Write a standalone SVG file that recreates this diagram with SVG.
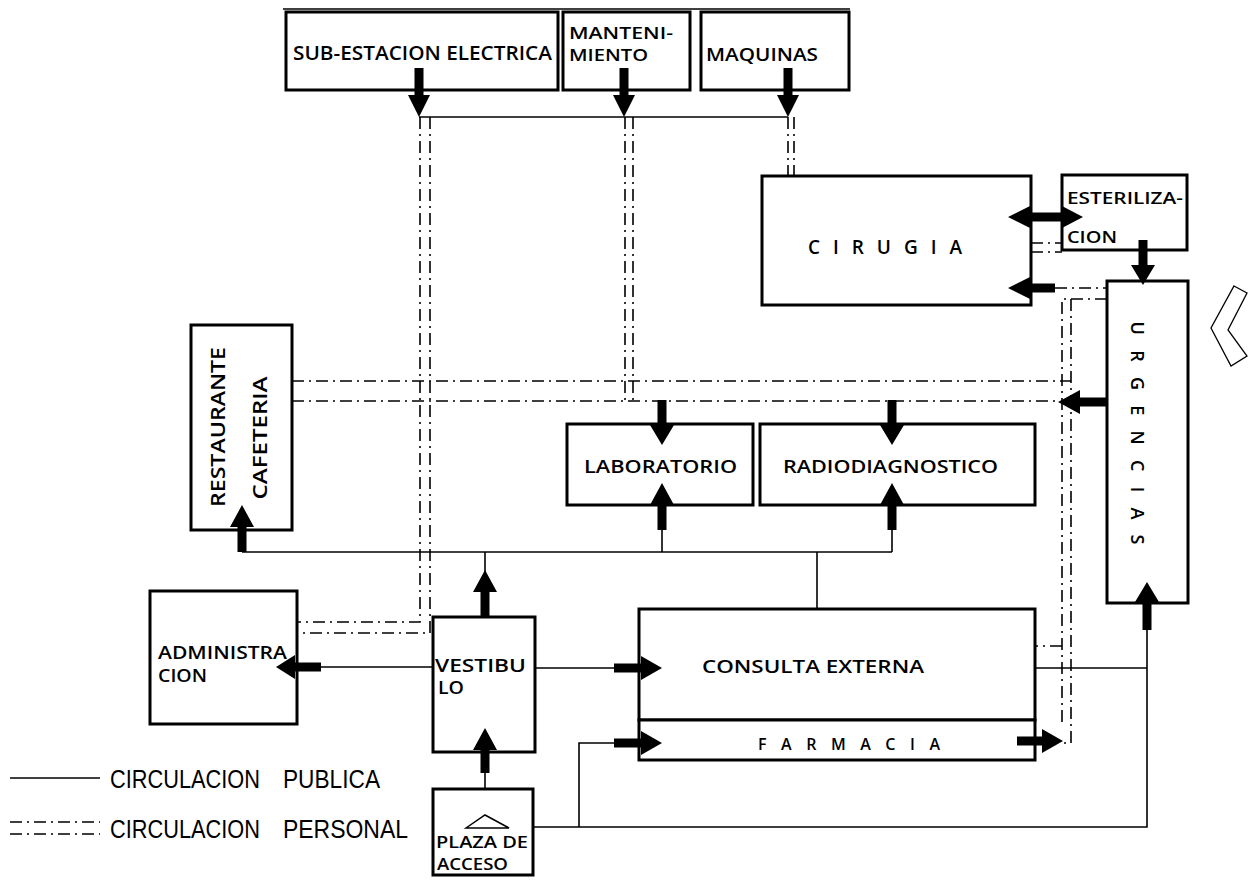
<svg xmlns="http://www.w3.org/2000/svg" width="1255" height="882" viewBox="0 0 1255 882">
<style>
.box{fill:#fff;stroke:#000;stroke-width:3}
.pub{fill:none;stroke:#000;stroke-width:1.6}
.per{fill:none;stroke:#000;stroke-width:1.6;stroke-dasharray:12 5 2 5}
.arr{fill:#000;stroke:none}
.lbl{font-family:"Open Sans","DejaVu Sans",sans-serif;font-weight:600;fill:#000}
.leg{font-family:"Liberation Sans",Arial,sans-serif;fill:#000;font-size:26px}
</style>
<rect width="1255" height="882" fill="#fff"/>
<line class="pub" x1="283" y1="9" x2="850" y2="9"/>

<g id="subestacion">
  <rect class="box" x="286" y="12" width="272" height="78"/>
  <text class="lbl" x="293" y="60" font-size="20" textLength="259" lengthAdjust="spacingAndGlyphs">SUB-ESTACION ELECTRICA</text>
</g>
<g id="mantenimiento">
  <rect class="box" x="563" y="12" width="127" height="78"/>
  <text class="lbl" x="569" y="39" font-size="17" textLength="104" lengthAdjust="spacingAndGlyphs">MANTENI-</text>
  <text class="lbl" x="569" y="61" font-size="17" textLength="79" lengthAdjust="spacingAndGlyphs">MIENTO</text>
</g>
<g id="maquinas">
  <rect class="box" x="701" y="12" width="148" height="78"/>
  <text class="lbl" x="706" y="61" font-size="18" textLength="112" lengthAdjust="spacingAndGlyphs">MAQUINAS</text>
</g>
<g id="cirugia">
  <rect class="box" x="762" y="176" width="269" height="129"/>
  <text class="lbl" x="808" y="254" font-size="19" textLength="154">C I R U G I A</text>
</g>
<g id="esterilizacion">
  <rect class="box" x="1062" y="175" width="125" height="75"/>
  <text class="lbl" x="1067" y="204" font-size="17" textLength="116" lengthAdjust="spacingAndGlyphs">ESTERILIZA-</text>
  <text class="lbl" x="1067" y="243" font-size="17" textLength="50" lengthAdjust="spacingAndGlyphs">CION</text>
</g>
<g id="urgencias">
  <rect class="box" x="1107" y="281" width="81" height="322"/>
  <text class="lbl" transform="translate(1131,433) rotate(90)" text-anchor="middle" font-size="18" textLength="223">U R G E N C I A S</text>
</g>
<g id="restaurante">
  <rect class="box" x="191" y="325" width="101" height="205"/>
  <text class="lbl" transform="translate(225,427) rotate(-90)" text-anchor="middle" font-size="20" textLength="160" lengthAdjust="spacingAndGlyphs">RESTAURANTE</text>
  <text class="lbl" transform="translate(267,438) rotate(-90)" text-anchor="middle" font-size="20" textLength="123" lengthAdjust="spacingAndGlyphs">CAFETERIA</text>
</g>
<g id="laboratorio">
  <rect class="box" x="567" y="424" width="186" height="81"/>
  <text class="lbl" x="584" y="473" font-size="18" textLength="153" lengthAdjust="spacingAndGlyphs">LABORATORIO</text>
</g>
<g id="radiodiagnostico">
  <rect class="box" x="760" y="424" width="275" height="81"/>
  <text class="lbl" x="783" y="473" font-size="18" textLength="215" lengthAdjust="spacingAndGlyphs">RADIODIAGNOSTICO</text>
</g>
<g id="administracion">
  <rect class="box" x="150" y="591" width="147" height="133"/>
  <text class="lbl" x="158" y="659" font-size="18" textLength="129" lengthAdjust="spacingAndGlyphs">ADMINISTRA</text>
  <text class="lbl" x="158" y="682" font-size="18" textLength="49" lengthAdjust="spacingAndGlyphs">CION</text>
</g>
<g id="vestibulo">
  <rect class="box" x="433" y="617" width="102" height="135"/>
  <text class="lbl" x="435" y="672" font-size="18" textLength="91" lengthAdjust="spacingAndGlyphs">VESTIBU</text>
  <text class="lbl" x="438" y="694" font-size="18" textLength="26" lengthAdjust="spacingAndGlyphs">LO</text>
</g>
<g id="consulta">
  <rect class="box" x="639" y="609" width="396" height="111"/>
  <text class="lbl" x="702" y="673" font-size="18" textLength="222" lengthAdjust="spacingAndGlyphs">CONSULTA EXTERNA</text>
</g>
<g id="farmacia">
  <rect class="box" x="639" y="720" width="396" height="40"/>
  <text class="lbl" x="758" y="750" font-size="16" textLength="182">F A R M A C I A</text>
</g>
<g id="plaza">
  <rect class="box" x="433" y="789" width="100" height="86"/>
  <path d="M466,828 L485,815 L509,828 Z" fill="none" stroke="#000" stroke-width="1.5"/>
  <text class="lbl" x="436" y="848" font-size="17" textLength="92" lengthAdjust="spacingAndGlyphs">PLAZA DE</text>
  <text class="lbl" x="437" y="870" font-size="17" textLength="71" lengthAdjust="spacingAndGlyphs">ACCESO</text>
</g>
<g id="orientacion">
  <polygon points="1234,286 1247,293 1228,330 1247,356 1231,366 1211,328" fill="none" stroke="#000" stroke-width="1.3"/>
</g>

<g id="connectors">
  <!-- public circulation -->
  <polyline class="pub" points="419,117 788,117"/>
  <polyline class="pub" points="242,552 892,552"/>
  <line class="pub" x1="662" y1="530" x2="662" y2="552"/>
  <line class="pub" x1="892" y1="530" x2="892" y2="552"/>
  <line class="pub" x1="485" y1="552" x2="485" y2="572"/>
  <line class="pub" x1="817" y1="552" x2="817" y2="609"/>
  <line class="pub" x1="321" y1="667" x2="433" y2="667"/>
  <line class="pub" x1="535" y1="668" x2="614" y2="668"/>
  <line class="pub" x1="485" y1="773" x2="485" y2="789"/>
  <polyline class="pub" points="533,827 1147,827 1147,630"/>
  <polyline class="pub" points="579,827 579,743 614,743"/>
  <line class="pub" x1="1035" y1="668" x2="1147" y2="668"/>
  <!-- personal circulation -->
  <polyline class="per" points="420,117 420,622 297,622"/>
  <polyline class="per" points="430,117 430,633 297,633"/>
  <line class="per" x1="625" y1="117" x2="625" y2="400"/>
  <line class="per" x1="633" y1="117" x2="633" y2="400"/>
  <line class="per" x1="788" y1="117" x2="788" y2="176"/>
  <line class="per" x1="794" y1="117" x2="794" y2="176"/>
  <line class="per" x1="292" y1="381" x2="1071" y2="381"/>
  <line class="per" x1="292" y1="401" x2="1058" y2="401"/>
  <line class="per" x1="1031" y1="243" x2="1062" y2="243"/>
  <line class="per" x1="1031" y1="252" x2="1062" y2="252"/>
  <line class="per" x1="1055" y1="288" x2="1107" y2="288"/>
  <polyline class="per" points="1107,299 1062,299 1062,725"/>
  <polyline class="per" points="1062,646 1035,646"/>
  <polyline class="per" points="1071,299 1071,743 1062,743"/>
  <!-- arrows -->
  <path class="arr" d="M414.5,68 H423.5 V95 H430 L419,117 L408,95 H414.5 Z"/>
  <path class="arr" d="M619.5,68 H628.5 V95 H635 L624,117 L613,95 H619.5 Z"/>
  <path class="arr" d="M783.5,68 H792.5 V95 H799 L788,117 L777,95 H783.5 Z"/>
  <path class="arr" d="M1138.5,240 H1147.5 V265 H1155 L1143,285 L1131,265 H1138.5 Z"/>
  <path class="arr" d="M657.5,400 H666.5 V425 H674 L662,445 L650,425 H657.5 Z"/>
  <path class="arr" d="M887.5,400 H896.5 V425 H904 L892,445 L880,425 H887.5 Z"/>
  <path class="arr" d="M237.5,552 H246.5 V527 H254 L242,505 L230,527 H237.5 Z"/>
  <path class="arr" d="M657.5,530 H666.5 V505 H674 L662,483 L650,505 H657.5 Z"/>
  <path class="arr" d="M887.5,530 H896.5 V505 H904 L892,483 L880,505 H887.5 Z"/>
  <path class="arr" d="M480.5,617 H489.5 V592 H497 L485,570 L473,592 H480.5 Z"/>
  <path class="arr" d="M480.5,773 H489.5 V750 H497 L485,728 L473,750 H480.5 Z"/>
  <path class="arr" d="M1142.5,630 H1151.5 V602 H1159 L1147,582 L1135,602 H1142.5 Z"/>
  <path class="arr" d="M1055,283.5 V292.5 H1032 V300 L1008,288 L1032,276 V283.5 Z"/>
  <path class="arr" d="M1106,397.5 V406.5 H1080 V414 L1058,402 L1080,390 V397.5 Z"/>
  <path class="arr" d="M321,662.5 V671.5 H295 V679 L276,667 L295,655 V662.5 Z"/>
  <path class="arr" d="M614,663.5 V672.5 H641 V680 L662,668 L641,656 V663.5 Z"/>
  <path class="arr" d="M614,738.5 V747.5 H641 V755 L662,743 L641,731 V738.5 Z"/>
  <path class="arr" d="M1017,736.5 V745.5 H1042 V753 L1063,741 L1042,729 V736.5 Z"/>
  <path class="arr" d="M1008,217 L1030,206 V212.5 H1062 V206 L1083,217 L1062,228 V221.5 H1030 V228 Z"/>
</g>

<g id="leyenda">
  <line class="pub" x1="10" y1="778" x2="100" y2="778"/>
  <text class="leg" x="110" y="788" textLength="150" lengthAdjust="spacingAndGlyphs">CIRCULACION</text>
  <text class="leg" x="283" y="788" textLength="97" lengthAdjust="spacingAndGlyphs">PUBLICA</text>
  <line class="per" x1="10" y1="822" x2="100" y2="822"/>
  <line class="per" x1="10" y1="834" x2="100" y2="834"/>
  <text class="leg" x="110" y="838" textLength="150" lengthAdjust="spacingAndGlyphs">CIRCULACION</text>
  <text class="leg" x="283" y="838" textLength="125" lengthAdjust="spacingAndGlyphs">PERSONAL</text>
</g>
</svg>
